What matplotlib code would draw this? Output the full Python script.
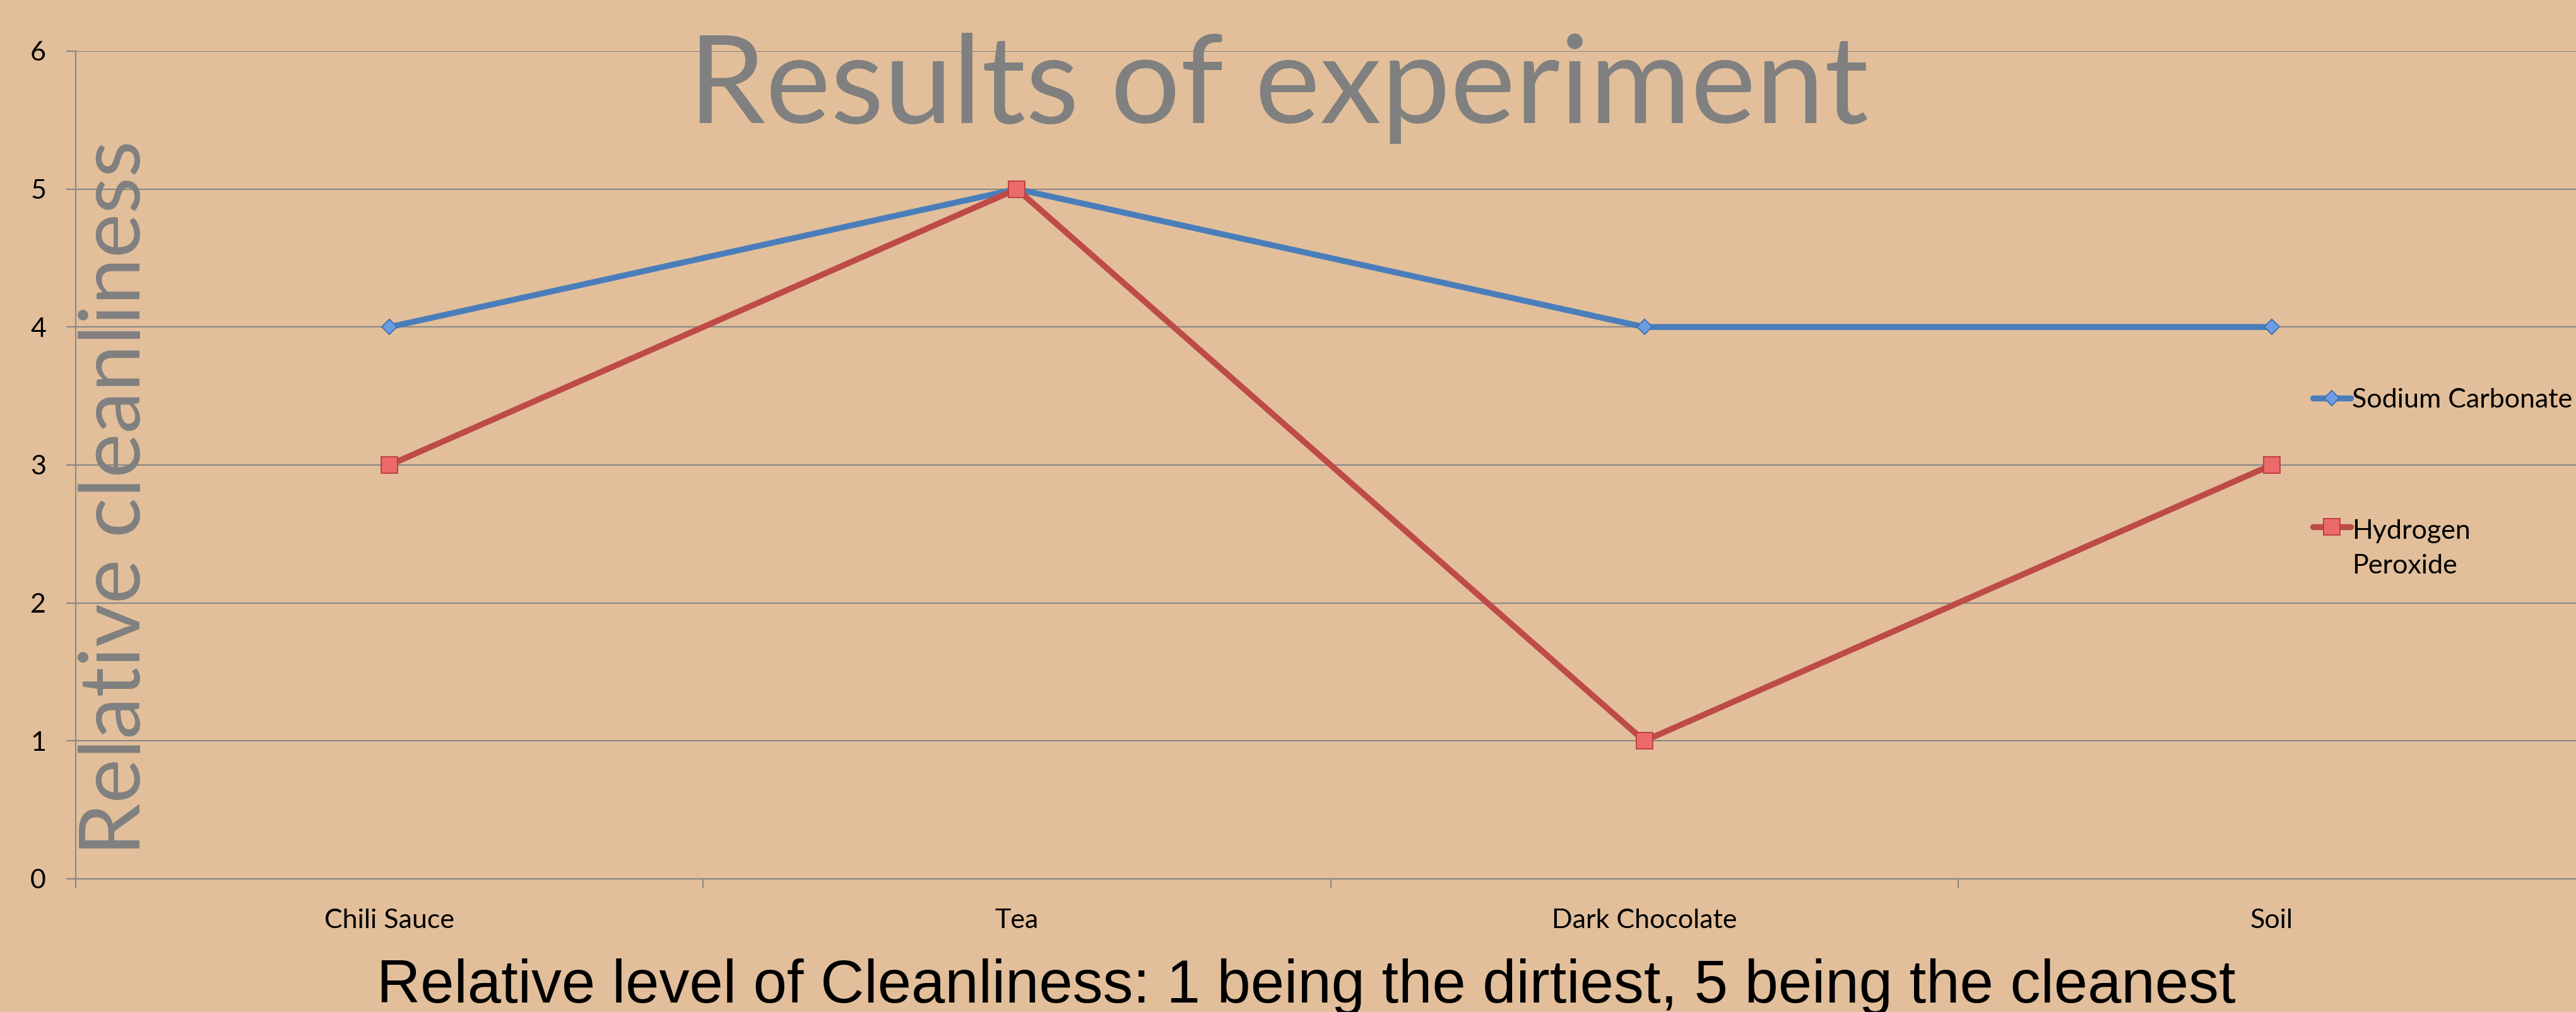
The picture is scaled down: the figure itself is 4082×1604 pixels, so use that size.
import matplotlib
matplotlib.use("Agg")
import matplotlib.pyplot as plt
from matplotlib.legend_handler import HandlerLine2D
import numpy as np

# ---------------- data ----------------
categories = ["Chili Sauce", "Tea", "Dark Chocolate", "Soil"]
sodium_carbonate = [4, 5, 4, 4]
hydrogen_peroxide = [3, 5, 1, 3]
series_labels = ["Sodium Carbonate", "Hydrogen\nPeroxide"]
y_ticks = [0, 1, 2, 3, 4, 5, 6]
title_text = "Results of experiment"
y_label_text = "Relative cleanliness"
x_label_text = "Relative level of Cleanliness: 1 being the dirtiest, 5 being the cleanest"

# ---------------- style ----------------
W, H, DPI = 4082, 1604, 100
BG = "#E2BF9A"
GRID = "#878787"
BLUE = "#4A7EBB"
RED = "#BE4B48"
CAL = ["Lato", "DejaVu Sans"]
ARIAL = ["Liberation Sans", "DejaVu Sans"]

fig = plt.figure(figsize=(W / DPI, H / DPI), dpi=DPI, facecolor=BG)
renderer = fig.canvas.get_renderer()


def fit_size(text, family, target_px, weight="normal"):
    t = fig.text(0, 0, text, fontsize=100, family=family, weight=weight)
    w = t.get_window_extent(renderer).width
    t.remove()
    return 100.0 * target_px / w


# axes geometry (pixels in the full image)
ax_left, ax_right, ax_top, ax_bottom = 120, 4097, 81, 1393
ax = fig.add_axes([ax_left / W, 1 - ax_bottom / H,
                   (ax_right - ax_left) / W, (ax_bottom - ax_top) / H])
ax.set_facecolor(BG)

x = np.arange(len(categories))
l1, = ax.plot(x, sodium_carbonate, color=BLUE, lw=6.8, marker="D", ms=12.5,
              mfc="#6C9DE2", mec="#3F6FAE", mew=1.3, solid_joinstyle="round",
              solid_capstyle="round", zorder=3)
l2, = ax.plot(x, hydrogen_peroxide, color=RED, lw=6.8, marker="s", ms=19,
              mfc="#EC6A6A", mec="#B83C3C", mew=1.3, solid_joinstyle="round",
              solid_capstyle="round", zorder=4)

ax.set_xlim(-0.5, len(categories) - 0.5)
ax.set_ylim(y_ticks[0], y_ticks[-1])

tick_fs = fit_size("Dark Chocolate", CAL, 294)

# x axis: boundary ticks (major), category labels (minor)
ax.set_xticks(np.arange(len(categories) + 1) - 0.5)
ax.set_xticklabels([])
ax.set_xticks(x, minor=True)
ax.set_xticklabels(categories, minor=True, fontsize=tick_fs, family=CAL)
ax.tick_params(axis="x", which="major", length=10.8, width=1.5, color=GRID,
               direction="out")
ax.tick_params(axis="x", which="minor", length=0, pad=34, labelcolor="black")

ax.set_yticks(y_ticks)
ax.set_yticklabels([str(v) for v in y_ticks], fontsize=tick_fs, family=CAL)
ax.tick_params(axis="y", length=10.8, width=1.5, color=GRID, direction="out",
               pad=23, labelcolor="black")

ax.yaxis.grid(True, color=GRID, lw=1.5)
ax.set_axisbelow(True)
for s in ("top", "right"):
    ax.spines[s].set_visible(False)
for s in ("left", "bottom"):
    ax.spines[s].set_color(GRID)
    ax.spines[s].set_linewidth(1.5)

# ---------------- texts ----------------
title_fs = fit_size(title_text, CAL, 1870)
fig.text(2026 / W, 1 - 195 / H, title_text, fontsize=title_fs, family=CAL,
         color="#808080", ha="center", va="baseline", zorder=10)

ylab_fs = fit_size(y_label_text, CAL, 1135)
fig.text(222 / W, 1 - 1356 / H, y_label_text, fontsize=ylab_fs, family=CAL,
         color="#808080", rotation=90, rotation_mode="anchor",
         ha="left", va="baseline", zorder=10)

xlab_fs = fit_size(x_label_text, ARIAL, 2945)
fig.text(2070 / W, 1 - 1589 / H, x_label_text, fontsize=xlab_fs, family=ARIAL,
         color="black", ha="center", va="baseline", zorder=10)


# ---------------- legend ----------------
class FirstLineHandler(HandlerLine2D):
    def __init__(self, shift=0.0, **kw):
        super().__init__(**kw)
        self.shift = shift

    def create_artists(self, *args, **kwargs):
        arts = super().create_artists(*args, **kwargs)
        for a in arts:
            a.set_ydata(np.asarray(a.get_ydata(), dtype=float) + self.shift)
        return arts


leg = ax.legend(handles=[l1, l2], labels=series_labels,
                handler_map={l2: FirstLineHandler(shift=25.0, numpoints=1)},
                loc="upper left", bbox_to_anchor=(3665 / W, 1 - 615 / H),
                bbox_transform=fig.transFigure, frameon=False,
                prop={"family": CAL, "size": tick_fs},
                handlelength=43.0 / tick_fs, handletextpad=0.05,
                labelspacing=3.95, borderpad=0, borderaxespad=0, numpoints=1)
for t in leg.get_texts():
    t.set_linespacing(1.57)

fig.savefig("out.png", dpi=DPI, facecolor=BG)
